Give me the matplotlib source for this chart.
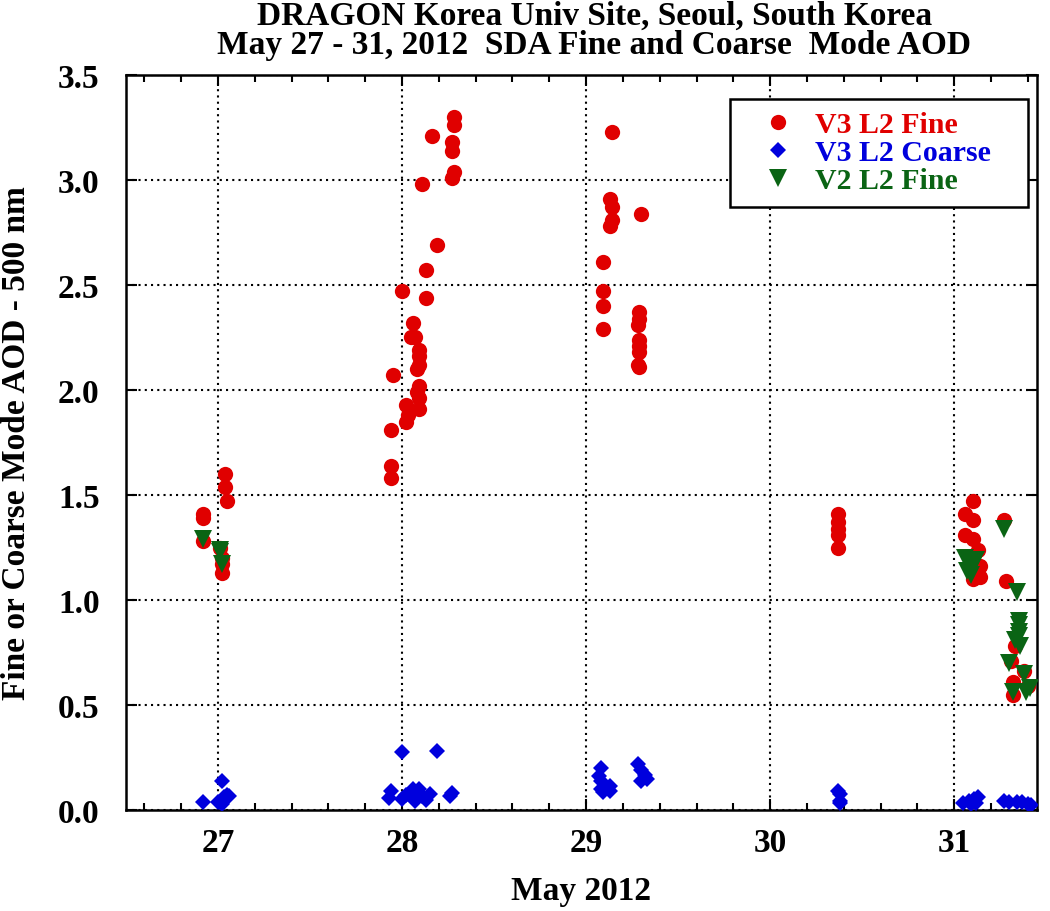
import matplotlib
matplotlib.use("Agg")
import matplotlib.pyplot as plt
from matplotlib.ticker import MultipleLocator
from matplotlib.lines import Line2D
from matplotlib.patches import Rectangle

plt.rcParams['font.family'] = ['Liberation Serif', 'DejaVu Serif']
plt.rcParams['font.weight'] = 'bold'

# V3 L2 Fine (red circles): day of May 2012, AOD
v3_fine_x = [26.92, 26.92, 26.92, 27.04, 27.04, 27.05, 27.01, 27.02, 27.02, 27.02,
             28.28, 28.28, 28.16, 28.27, 28.27, 28.28, 28.27, 28.11, 28.19, 28.13,
             28.00, 28.13, 28.06, 28.05, 28.07, 28.09, 28.09, 28.09, 28.08, 27.95,
             28.09, 28.08, 28.09, 28.02, 28.09, 28.03, 28.02, 27.94, 27.94, 27.94,
             29.14, 29.13, 29.14, 29.14, 29.13, 29.09, 29.09, 29.09, 29.09,
             29.30, 29.29, 29.29, 29.28, 29.29, 29.29, 29.29, 29.28, 29.29,
             30.37, 30.37, 30.37, 30.37, 30.37,
             31.10, 31.06, 31.10, 31.06, 31.10, 31.13, 31.14, 31.14, 31.10,
             31.27, 31.28, 31.33, 31.31, 31.38, 31.32, 31.32, 31.40]
v3_fine_y = [1.41, 1.39, 1.28, 1.60, 1.54, 1.47, 1.25, 1.20, 1.17, 1.13,
             3.30, 3.26, 3.21, 3.18, 3.14, 3.04, 3.01, 2.98, 2.69, 2.57,
             2.47, 2.44, 2.32, 2.25, 2.25, 2.19, 2.16, 2.12, 2.10, 2.07,
             2.02, 1.99, 1.96, 1.93, 1.91, 1.88, 1.85, 1.81, 1.64, 1.58,
             3.23, 2.91, 2.87, 2.81, 2.78, 2.61, 2.47, 2.40, 2.29,
             2.84, 2.37, 2.34, 2.31, 2.24, 2.21, 2.18, 2.12, 2.11,
             1.41, 1.37, 1.34, 1.31, 1.25,
             1.47, 1.41, 1.38, 1.31, 1.29, 1.24, 1.16, 1.11, 1.10,
             1.38, 1.09, 0.78, 0.71, 0.66, 0.61, 0.55, 0.59]

# V3 L2 Coarse (blue diamonds)
v3_coarse_x = [26.92, 27.02, 27.00, 27.03, 27.05, 27.06, 27.02,
               28.00, 28.19, 27.94, 27.93, 28.04, 28.06, 28.09, 28.07, 28.00,
               28.11, 28.15, 28.26, 28.27, 28.02, 28.08, 28.13,
               29.08, 29.07, 29.08, 29.13, 29.08, 29.13, 29.09,
               29.28, 29.30, 29.32, 29.30, 29.33,
               30.37, 30.38, 30.38, 30.38,
               31.05, 31.08, 31.11, 31.13, 31.09, 31.12,
               31.27, 31.30, 31.34, 31.37, 31.40, 31.42]
v3_coarse_y = [0.04, 0.14, 0.04, 0.06, 0.07, 0.065, 0.03,
               0.275, 0.283, 0.09, 0.057, 0.076, 0.10, 0.10, 0.044, 0.052,
               0.068, 0.076, 0.068, 0.08, 0.07, 0.06, 0.05,
               0.20, 0.16, 0.14, 0.115, 0.10, 0.09, 0.085,
               0.22, 0.19, 0.165, 0.14, 0.15,
               0.09, 0.075, 0.045, 0.035,
               0.033, 0.045, 0.052, 0.06, 0.03, 0.035,
               0.044, 0.036, 0.038, 0.036, 0.03, 0.025]

# V2 L2 Fine (green down-triangles)
v2_fine_x = [26.92, 27.01, 27.01, 27.02,
             31.06, 31.08, 31.10, 31.07, 31.12, 31.09,
             31.27, 31.34, 31.35, 31.35, 31.35, 31.35, 31.33, 31.36,
             31.30, 31.38, 31.32, 31.39, 31.41]
v2_fine_y = [1.29, 1.24, 1.23, 1.17,
             1.20, 1.18, 1.16, 1.14, 1.19, 1.12,
             1.34, 1.04, 0.90, 0.88, 0.85, 0.83, 0.81, 0.78,
             0.70, 0.65, 0.56, 0.56, 0.58]

day_ticks = [27, 28, 29, 30, 31]
y_ticks = [0.0, 0.5, 1.0, 1.5, 2.0, 2.5, 3.0, 3.5]

red = '#e00000'
blue = '#0000dd'
green = '#0a6414'

fig = plt.figure(figsize=(10.5, 9.12), dpi=100)
ax = fig.add_axes([0.12, 0.1107, 0.8676, 0.806])

ax.plot(v3_fine_x, v3_fine_y, 'o', color=red, ms=11, mew=0, zorder=3)
ax.plot(v3_coarse_x, v3_coarse_y, 'D', color=blue, ms=8.5, mew=0, zorder=4)
ax.plot(v2_fine_x, v2_fine_y, 'v', color=green, ms=13, mew=0, zorder=5)

ax.set_xlim(26.5, 31.45)
ax.set_ylim(0, 3.5)
ax.set_xticks(day_ticks)
ax.set_xticklabels([str(d) for d in day_ticks])
ax.set_yticks(y_ticks)
ax.set_yticklabels([f"{v:.1f}" for v in y_ticks])
ax.xaxis.set_minor_locator(MultipleLocator(0.2))
ax.tick_params(axis='both', which='major', direction='in', length=8, width=1.5,
               top=True, right=True, labelsize=24)
ax.tick_params(axis='x', which='major', pad=12)
ax.tick_params(axis='y', which='major', pad=19)
ax.tick_params(axis='both', which='minor', direction='in', length=5, width=1.5,
               top=True, right=True)
ax.grid(True, which='major', color='black', linestyle=(0, (1, 2)), linewidth=1.5)
for s in ax.spines.values():
    s.set_linewidth(1.8)

ax.set_xlabel('May 2012', fontsize=24, fontweight='bold')
ax.set_ylabel('Fine or Coarse Mode AOD - 500 nm', fontsize=24, fontweight='bold')
ax.xaxis.set_label_coords(0.5, -0.088)
ax.yaxis.set_label_coords(-0.103, 0.5)
fig.text(0.566, 0.999, 'DRAGON Korea Univ Site, Seoul, South Korea\n'
         'May 27 - 31, 2012  SDA Fine and Coarse  Mode AOD',
         ha='center', va='top', fontsize=24, fontweight='bold', linespacing=0.93)

# legend frame drawn as a box, legend entries without frame
ax.add_patch(Rectangle((0.663, 0.820), 0.327, 0.147, transform=ax.transAxes,
                       facecolor='white', edgecolor='black', linewidth=1.8, zorder=6))
handles = [Line2D([], [], ls='', marker='o', color=red, ms=11, mew=0),
           Line2D([], [], ls='', marker='D', color=blue, ms=8.5, mew=0),
           Line2D([], [], ls='', marker='v', color=green, ms=13, mew=0)]
labels = ['V3 L2 Fine', 'V3 L2 Coarse', 'V2 L2 Fine']
leg = ax.legend(handles, labels, loc='upper left', bbox_to_anchor=(0.684, 0.951),
                borderaxespad=0, borderpad=0, fontsize=21.5, frameon=False,
                handletextpad=0.27, labelspacing=0.04, handlelength=1.95)
leg.set_zorder(7)
for t, c in zip(leg.get_texts(), [red, blue, green]):
    t.set_color(c)
    t.set_fontweight('bold')

fig.savefig('out.png', dpi=100)
